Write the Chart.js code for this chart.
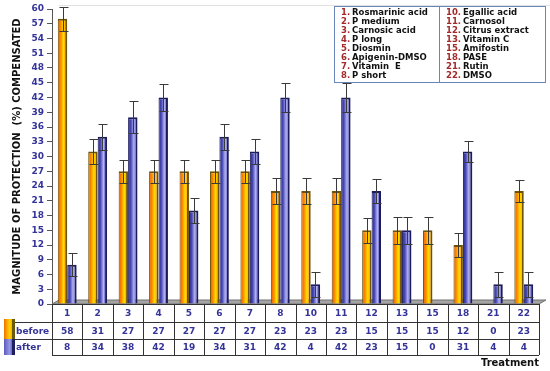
<!DOCTYPE html>
<html lang="en">
<head>
<meta charset="UTF-8">
<title>Magnitude of protection</title>
<script src="https://cdn.jsdelivr.net/npm/chart.js"></script>
<style>
    html, body { margin: 0; padding: 0; background: #fff; }
    #wrap { width: 550px; height: 371px; position: relative; }
</style>
</head>
<body>
<div id="wrap"><canvas id="chart" width="550" height="371"></canvas></div>
<script>
// treatments (x categories) and their names for the key box
const treatments = ['1', '2', '3', '4', '5', '6', '7', '8', '10', '11', '12', '13', '15', '18', '21', '22'];
const treatmentNames = ['Rosmarinic acid', 'P medium', 'Carnosic acid', 'P long', 'Diosmin', 'Apigenin-DMSO', 'Vitamin  E', 'P short',
    'Egallic acid', 'Carnosol', 'Citrus extract', 'Vitamin C', 'Amifostin', 'PASE', 'Rutin', 'DMSO'];

// % compensated, before / after
const before = [58, 31, 27, 27, 27, 27, 27, 23, 23, 23, 15, 15, 15, 12, 0, 23];
const after = [8, 34, 38, 42, 19, 34, 31, 42, 4, 42, 23, 15, 0, 31, 4, 4];
// error bar half-widths
const beforeErr = [2.5, 2.5, 2.3, 2.3, 2.3, 2.3, 2.3, 2.6, 2.6, 2.6, 2.5, 2.7, 2.7, 2.4, 0, 2.2];
const afterErr = [2.3, 2.6, 3.3, 2.8, 2.5, 2.6, 2.6, 3.0, 2.5, 3.0, 2.4, 2.7, 0, 2.2, 2.5, 2.5];

const yTicks = { min: 0, max: 60, step: 3 };

const FONT = '"DejaVu Sans", Verdana, sans-serif';
const BLUE_TXT = '#333399';
const CAT_PCT = 0.62;

// horizontal gradients per bar, made after layout so the x scale is known
let grads = [[], []];
function makeBarGrad(ctx, x0, w, ds) {
    const g = ctx.createLinearGradient(x0, 0, x0 + w, 0);
    if (ds === 0) {
        g.addColorStop(0, '#e85800');
        g.addColorStop(0.3, '#ff8a00');
        g.addColorStop(0.6, '#ffe000');
        g.addColorStop(0.8, '#ffa800');
        g.addColorStop(1, '#e06800');
    } else {
        g.addColorStop(0, '#262688');
        g.addColorStop(0.3, '#4a4ab8');
        g.addColorStop(0.62, '#b4b4f2');
        g.addColorStop(0.85, '#5454bc');
        g.addColorStop(1, '#2c2c92');
    }
    return g;
}

const gradPlugin = {
    id: 'gradPlugin',
    afterLayout(chart) {
        const xs = chart.scales.x;
        const catW = xs.width / treatments.length;
        const groupW = catW * CAT_PCT;
        const barW = groupW / 2;
        grads = [[], []];
        for (let d = 0; d < 2; d++) {
            treatments.forEach((t, i) => {
                const c = xs.getPixelForValue(i);
                const x0 = c - groupW / 2 + d * barW;
                grads[d][i] = makeBarGrad(chart.ctx, x0, barW, d);
            });
        }
    }
};

// gray 3D floor + faint back wall edge
const floorPlugin = {
    id: 'floorPlugin',
    beforeDatasetsDraw(chart) {
        const { ctx, chartArea: a } = chart;
        ctx.save();
        ctx.strokeStyle = '#e2e2e2';
        ctx.lineWidth = 1;
        ctx.beginPath();
        ctx.moveTo(a.left + 7, 5.5);
        ctx.lineTo(550, 5.5);
        ctx.stroke();
        ctx.fillStyle = '#a4a4a4';
        ctx.strokeStyle = '#707070';
        ctx.beginPath();
        ctx.moveTo(a.left, a.bottom);
        ctx.lineTo(a.right, a.bottom);
        ctx.lineTo(a.right + 7, a.bottom - 4);
        ctx.lineTo(a.left + 7, a.bottom - 4);
        ctx.closePath();
        ctx.fill();
        ctx.stroke();
        ctx.restore();
    }
};

const errPlugin = {
    id: 'errPlugin',
    afterDatasetsDraw(chart) {
        const { ctx } = chart;
        const ys = chart.scales.y;
        const vals = [before, after];
        const errs = [beforeErr, afterErr];
        ctx.save();
        ctx.strokeStyle = '#3a3a3a';
        ctx.lineWidth = 1;
        for (let d = 0; d < 2; d++) {
            chart.getDatasetMeta(d).data.forEach((el, i) => {
                const v = vals[d][i], e = errs[d][i];
                if (!v || !e) return;
                const x = Math.round(el.x) + 0.5;
                const yt = Math.round(ys.getPixelForValue(v + e)) + 0.5;
                const yb = Math.round(ys.getPixelForValue(v - e)) + 0.5;
                ctx.beginPath();
                ctx.moveTo(x, yt); ctx.lineTo(x, yb);
                ctx.moveTo(x - 4, yt); ctx.lineTo(x + 5, yt);
                ctx.moveTo(x - 4, yb); ctx.lineTo(x + 5, yb);
                ctx.stroke();
            });
        }
        ctx.restore();
    }
};

// data table under the plot + key box
const tablePlugin = {
    id: 'tablePlugin',
    afterDraw(chart) {
        const { ctx, chartArea: a } = chart;
        const xs = chart.scales.x;
        const catW = xs.width / treatments.length;
        const top = a.bottom, r1 = top + 18, r2 = r1 + 17, bot = r2 + 16;
        ctx.save();
        ctx.strokeStyle = '#333';
        ctx.lineWidth = 1;
        ctx.beginPath();
        ctx.moveTo(a.left, top + 0.5); ctx.lineTo(a.right, top + 0.5);
        ctx.moveTo(15, r1 + 0.5); ctx.lineTo(a.right, r1 + 0.5);
        ctx.moveTo(15, r2 + 0.5); ctx.lineTo(a.right, r2 + 0.5);
        ctx.moveTo(a.left, bot + 0.5); ctx.lineTo(a.right, bot + 0.5);
        for (let i = 0; i <= treatments.length; i++) {
            const x = Math.round(a.left + i * catW) + 0.5;
            ctx.moveTo(x, top); ctx.lineTo(x, bot);
        }
        ctx.stroke();

        // row swatches
        const so = ctx.createLinearGradient(4, 0, 15, 0);
        so.addColorStop(0, '#f07000'); so.addColorStop(0.5, '#ffd400'); so.addColorStop(0.72, '#ffb000'); so.addColorStop(0.75, '#6a5a10'); so.addColorStop(1, '#6a5a10');
        ctx.fillStyle = so;
        ctx.fillRect(4, r1 - 3, 11, r2 - r1 + 3);
        const sb = ctx.createLinearGradient(4, 0, 15, 0);
        sb.addColorStop(0, '#5a5ac0'); sb.addColorStop(0.5, '#9898e0'); sb.addColorStop(0.72, '#6a6ac8'); sb.addColorStop(0.75, '#1e1e60'); sb.addColorStop(1, '#1e1e60');
        ctx.fillStyle = sb;
        ctx.fillRect(4, r2, 11, bot - r2);

        ctx.font = 'bold 9px ' + FONT;
        ctx.fillStyle = BLUE_TXT;
        ctx.textBaseline = 'middle';
        ctx.textAlign = 'left';
        ctx.fillText('before', 16, (r1 + r2) / 2 + 1);
        ctx.fillText('after', 16, (r2 + bot) / 2 + 1);
        ctx.textAlign = 'center';
        treatments.forEach((t, i) => {
            const c = xs.getPixelForValue(i);
            ctx.fillText(t, c, (top + r1) / 2 + 1);
            ctx.fillText(String(before[i]), c, (r1 + r2) / 2 + 1);
            ctx.fillText(String(after[i]), c, (r2 + bot) / 2 + 1);
        });
        ctx.fillStyle = '#111';
        ctx.font = 'bold 10px ' + FONT;
        ctx.textAlign = 'right';
        ctx.fillText('Treatment', a.right, bot + 8);

        // key box
        const bx = 334, by = 6, bw = 211, bh = 76, mid = 439;
        ctx.fillStyle = '#fff';
        ctx.fillRect(bx, by, bw, bh);
        ctx.strokeStyle = '#6a86b8';
        ctx.strokeRect(bx + 0.5, by + 0.5, bw, bh);
        ctx.beginPath();
        ctx.moveTo(mid + 0.5, by); ctx.lineTo(mid + 0.5, by + bh);
        ctx.stroke();
        ctx.font = 'bold 8.5px ' + FONT;
        ctx.textAlign = 'left';
        treatments.forEach((t, i) => {
            const col = i < 8 ? 0 : 1;
            const row = i % 8;
            const y = by + 6.5 + row * 9;
            const xn = col ? 446 : 341;
            const xt = col ? 463 : 352;
            ctx.fillStyle = '#a22a2a';
            ctx.fillText(t + '.', xn, y);
            ctx.fillStyle = '#111';
            ctx.fillText(treatmentNames[i], xt, y);
        });
        ctx.restore();
    }
};

new Chart(document.getElementById('chart'), {
    type: 'bar',
    data: {
        labels: treatments,
        datasets: [
            {
                label: 'before',
                data: before,
                backgroundColor: c => (grads[0][c.dataIndex] || '#f5a000'),
                borderColor: '#6e5208',
                borderWidth: { top: 2, right: 2, left: 1, bottom: 0 },
                borderSkipped: false,
                barPercentage: 1,
                categoryPercentage: CAT_PCT
            },
            {
                label: 'after',
                data: after,
                backgroundColor: c => (grads[1][c.dataIndex] || '#6060c0'),
                borderColor: '#1c1c5c',
                borderWidth: { top: 2, right: 2, left: 1, bottom: 0 },
                borderSkipped: false,
                barPercentage: 1,
                categoryPercentage: CAT_PCT
            }
        ]
    },
    options: {
        responsive: false,
        animation: false,
        layout: { padding: { top: 9, right: 11, bottom: 67, left: 0 } },
        plugins: {
            legend: { display: false },
            tooltip: { enabled: false }
        },
        scales: {
            x: { display: false },
            y: {
                min: yTicks.min,
                max: yTicks.max,
                afterFit: s => { s.width = 52; },
                ticks: {
                    stepSize: yTicks.step,
                    color: BLUE_TXT,
                    font: { family: FONT, size: 9, weight: 'bold' },
                    padding: 3
                },
                grid: { drawOnChartArea: false, tickLength: 5, color: '#555' },
                border: { color: '#555' },
                title: {
                    display: true,
                    text: 'MAGNITUDE OF PROTECTION  (%) COMPENSATED',
                    color: '#111',
                    font: { family: FONT, size: 10, weight: 'bold' },
                    padding: { top: 11, bottom: 0 }
                }
            }
        }
    },
    plugins: [gradPlugin, floorPlugin, errPlugin, tablePlugin]
});
</script>
</body>
</html>
